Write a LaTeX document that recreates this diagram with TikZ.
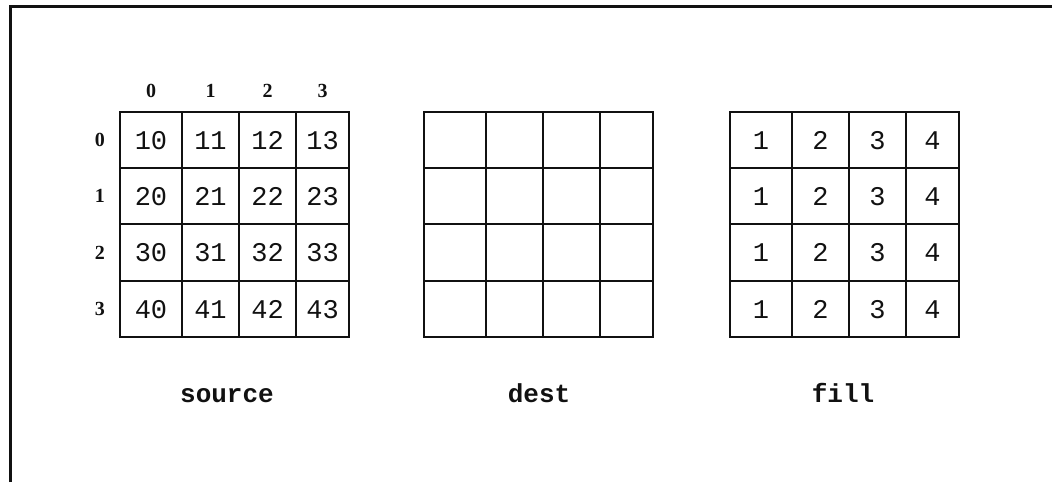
\documentclass[tikz,border=0pt]{standalone}
\usepackage{fontspec}
\usetikzlibrary{positioning}
\newfontfamily\cellfont{Liberation Mono}
\newfontfamily\indexfont{Liberation Serif}
\definecolor{inkblack}{HTML}{111111}

\begin{document}
\begin{tikzpicture}[
    x=1pt, y=-1pt,
    cell/.style={
        draw=inkblack, line width=2pt, inner sep=0pt,
        text height=18pt, text depth=0pt,
        font=\cellfont\fontsize{27}{29}\selectfont, text=inkblack
    },
    index/.style={
        inner sep=2pt, font=\indexfont\bfseries\fontsize{20}{22}\selectfont,
        text=inkblack
    },
    caption/.style={
        anchor=base, font=\cellfont\bfseries\fontsize{26}{28}\selectfont,
        text=inkblack
    },
    frame/.style={draw=inkblack, line width=3pt},
]
\useasboundingbox (0,0) rectangle (1052,482);

% ===================================================================
% OUTER FRAME (open at right and bottom)
% ===================================================================
\draw[frame] (10,482) -- (10,6.5) -- (1052,6.5);

% ===================================================================
% SOURCE ARRAY
% ===================================================================
\begin{scope}
    \foreach \r/\ya/\yb in {0/112/168, 1/168/224, 2/224/281, 3/281/337} {
        \foreach \c/\xa/\xb in {0/120/182, 1/182/239, 2/239/296, 3/296/349} {
            \pgfmathsetmacro\cw{\xb-\xa}
            \pgfmathsetmacro\ch{\yb-\ya}
            \pgfmathtruncatemacro\val{10*(\r+1)+\c}
            \node[cell, minimum width=\cw pt, minimum height=\ch pt]
                (src-\r-\c) at ({(\xa+\xb)/2},{(\ya+\yb)/2}) {\val};
        }
    }

    % Column and row indices
    \foreach \c in {0,...,3}
        \node[index, above=11pt of src-0-\c] (col-\c) {\c};
    \foreach \r in {0,...,3}
        \node[index, left=12pt of src-\r-0] (row-\r) {\r};

    \node[caption] (src-label) at (227,402) {source};
\end{scope}

% ===================================================================
% DEST ARRAY (empty)
% ===================================================================
\begin{scope}[xshift=304pt]
    \foreach \r/\ya/\yb in {0/112/168, 1/168/224, 2/224/281, 3/281/337} {
        \foreach \c/\xa/\xb in {0/120/182, 1/182/239, 2/239/296, 3/296/349} {
            \pgfmathsetmacro\cw{\xb-\xa}
            \pgfmathsetmacro\ch{\yb-\ya}
            \node[cell, minimum width=\cw pt, minimum height=\ch pt]
                (dst-\r-\c) at ({(\xa+\xb)/2},{(\ya+\yb)/2}) {};
        }
    }

    \node[caption] (dst-label) at (235,402) {dest};
\end{scope}

% ===================================================================
% FILL ARRAY
% ===================================================================
\begin{scope}[xshift=610pt]
    \foreach \r/\ya/\yb in {0/112/168, 1/168/224, 2/224/281, 3/281/337} {
        \foreach \c/\xa/\xb in {0/120/182, 1/182/239, 2/239/296, 3/296/349} {
            \pgfmathsetmacro\cw{\xb-\xa}
            \pgfmathsetmacro\ch{\yb-\ya}
            \pgfmathtruncatemacro\val{\c+1}
            \node[cell, minimum width=\cw pt, minimum height=\ch pt]
                (fil-\r-\c) at ({(\xa+\xb)/2},{(\ya+\yb)/2}) {\val};
        }
    }

    \node[caption] (fil-label) at (233,402) {fill};
\end{scope}

\end{tikzpicture}
\end{document}
